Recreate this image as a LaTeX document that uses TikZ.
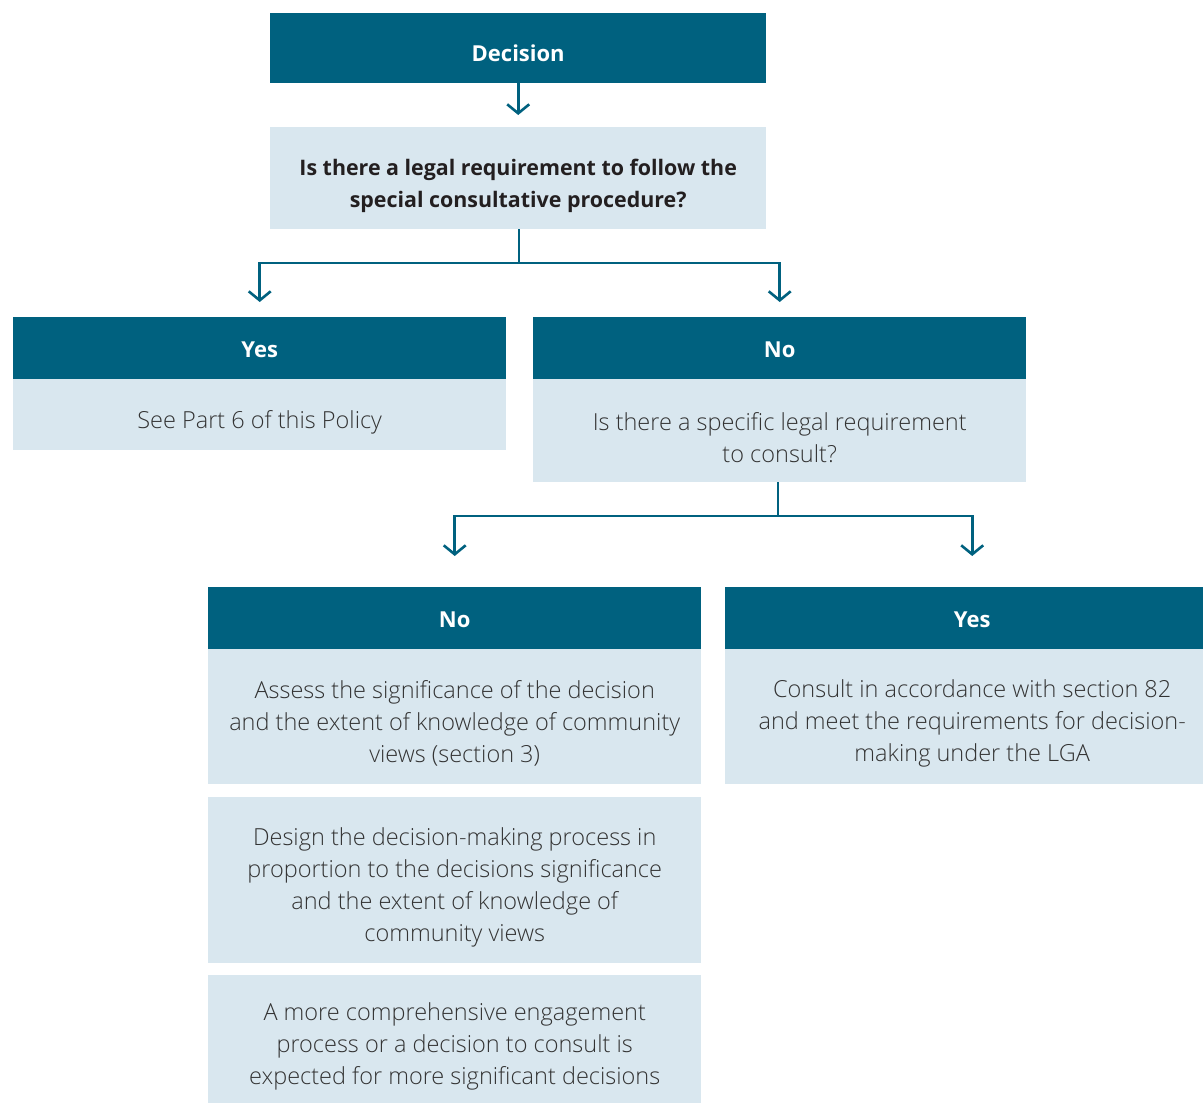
\documentclass[tikz,border=0pt]{standalone}
\usepackage{fontspec}
\setmainfont{Open Sans}
\newfontfamily\lightfont{Open Sans}[UprightFont={* Light},BoldFont={* Bold}]
\usetikzlibrary{arrows.meta}
\definecolor{dark}{HTML}{00617F}
\definecolor{pale}{HTML}{D9E7EF}
\definecolor{ink}{HTML}{333333}
\definecolor{qink}{HTML}{231F20}
\tikzset{
  x=1pt,y=-1pt,
  hdrbox/.style={fill=dark,inner sep=0pt,anchor=north west},
  bodybox/.style={fill=pale,inner sep=0pt,anchor=north west},
  hdrtext/.style={text=white,font=\fontsize{22}{26}\selectfont\bfseries,inner sep=0pt,align=center},
  bodytext/.style={text=ink,font=\lightfont\fontsize{23.5}{32}\selectfont,inner sep=0pt,align=center},
  qtext/.style={text=qink,font=\fontsize{21.4}{32}\selectfont\bfseries,inner sep=0pt,align=center},
  conn/.style={draw=dark,line width=2.6pt},
  arr/.style={conn,-{Straight Barb[length=9pt,width=22pt,line width=2.6pt]}},
}
\begin{document}
\begin{tikzpicture}
\useasboundingbox (0,0) rectangle (1203,1103);
% boxes
\node[hdrbox,minimum width=496pt,minimum height=70pt] (dec) at (270,13) {};
\node[bodybox,minimum width=496pt,minimum height=102pt] (q) at (270,127) {};
\node[hdrbox,minimum width=493pt,minimum height=62pt] (yesh) at (13,317) {};
\node[bodybox,minimum width=493pt,minimum height=71pt] (yesb) at (13,379) {};
\node[hdrbox,minimum width=493pt,minimum height=62pt] (noh) at (533,317) {};
\node[bodybox,minimum width=493pt,minimum height=103pt] (nob) at (533,379) {};
\node[hdrbox,minimum width=493pt,minimum height=62pt] (no2h) at (208,587) {};
\node[bodybox,minimum width=493pt,minimum height=135pt] (no2b) at (208,649) {};
\node[hdrbox,minimum width=478pt,minimum height=62pt] (yes2h) at (725,587) {};
\node[bodybox,minimum width=478pt,minimum height=135pt] (yes2b) at (725,649) {};
\node[bodybox,minimum width=493pt,minimum height=166pt] (des) at (208,797) {};
\node[bodybox,minimum width=493pt,minimum height=128pt] (more) at (208,975) {};
% texts
\node[hdrtext] (dect) at ([yshift=-5pt]dec.center) {Decision};
\node[qtext] (qt) at ([yshift=-8pt]q.center) {Is there a legal requirement to follow the\\special consultative procedure?};
\node[hdrtext] (yesht) at ([yshift=-2pt]yesh.center) {Yes};
\node[bodytext] (yesbt) at ([yshift=-8pt]yesb.center) {See Part 6 of this Policy};
\node[hdrtext] (noht) at ([yshift=-2pt]noh.center) {No};
\node[bodytext] (nobt) at ([yshift=-7pt]nob.center) {Is there a specific legal requirement\\to consult?};
\node[hdrtext] (no2ht) at ([yshift=-2pt]no2h.center) {No};
\node[bodytext] (no2bt) at ([yshift=-7pt]no2b.center) {Assess the significance of the decision\\and the extent of knowledge of community\\views (section 3)};
\node[hdrtext] (yes2ht) at ([xshift=8pt,yshift=-2pt]yes2h.center) {Yes};
\node[bodytext] (yes2bt) at ([xshift=8pt,yshift=-7pt]yes2b.center) {Consult in accordance with section 82\\and meet the requirements for decision-\\making under the LGA};
\node[bodytext] (dest) at ([yshift=-7pt]des.center) {Design the decision-making process in\\proportion to the decisions significance\\and the extent of knowledge of\\community views};
\node[bodytext] (moret) at ([yshift=-7pt]more.center) {A more comprehensive engagement\\process or a decision to consult is\\expected for more significant decisions};
% connectors
\coordinate (j1) at (519,263);
\coordinate (j2) at (778,516);
\draw[arr] (dec.south) -- ([yshift=12pt]q.north);
\draw[conn] (j1 |- q.south) -- (j1);
\draw[arr] (j1) -| ([yshift=15pt]yesh.north);
\draw[arr] (j1) -| ([yshift=15pt]noh.north);
\draw[conn] (j2 |- nob.south) -- (j2);
\draw[arr] (j2) -| ([yshift=31pt]no2h.north);
\draw[arr] (j2) -| ([xshift=8pt,yshift=31pt]yes2h.north);
\end{tikzpicture}
\end{document}
